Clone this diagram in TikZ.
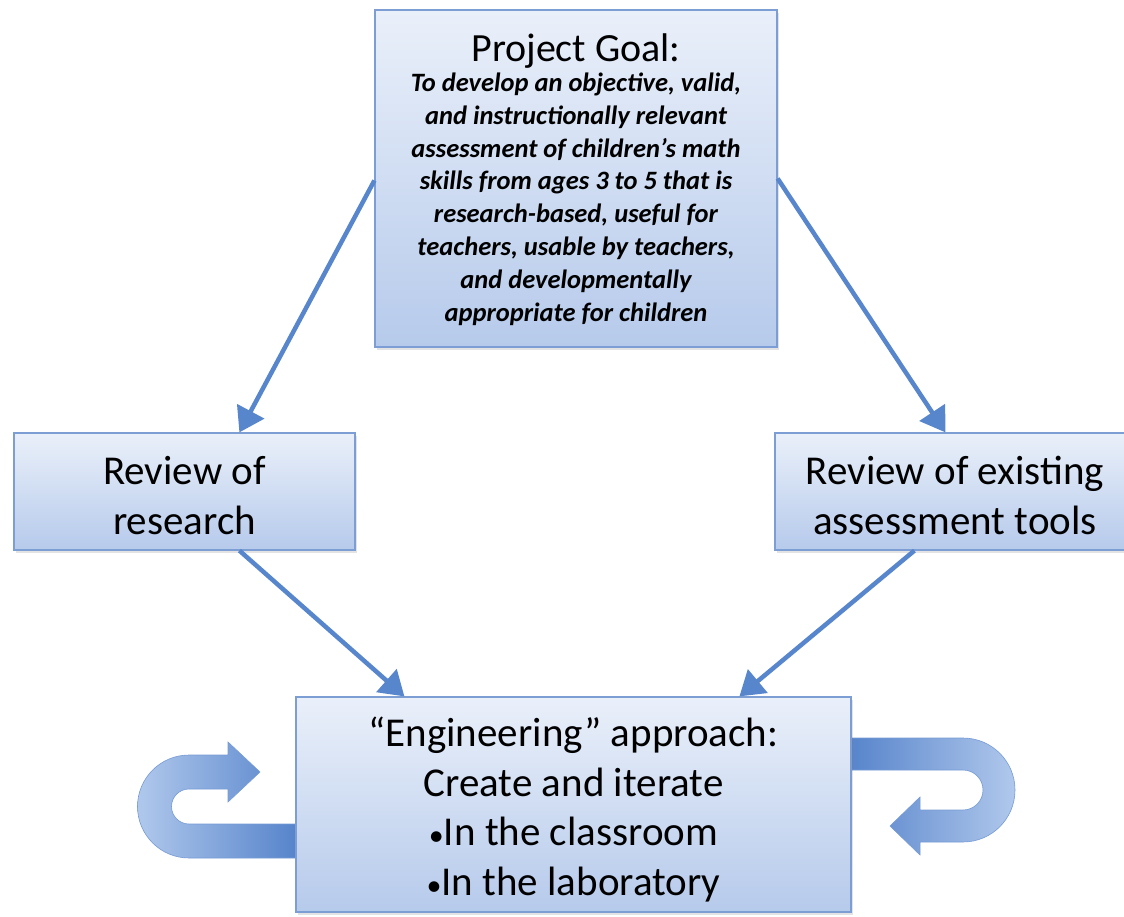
\documentclass[tikz,border=0pt]{standalone}
\usepackage{fontspec}
\setmainfont{Carlito}
\usetikzlibrary{arrows.meta,calc,shadows}

\definecolor{boxtop}{RGB}{234,240,250}
\definecolor{boxbot}{RGB}{182,202,235}
\definecolor{boxline}{RGB}{124,158,212}
\definecolor{flow}{RGB}{88,134,204}
\definecolor{uturnlight}{RGB}{176,200,236}
\definecolor{uturndark}{RGB}{84,130,202}

\newcommand{\smallbullet}{{\fontsize{30}{30}\selectfont•}}

\tikzset{
  stepbox/.style={draw=boxline, line width=1.2pt, top color=boxtop, bottom color=boxbot,
    align=center, inner sep=0pt, font=\fontsize{41}{49.5}\selectfont,
    drop shadow={opacity=0.22, shadow xshift=2pt, shadow yshift=-3pt}},
  goaltext/.style={font=\fontsize{26.5}{32.8}\selectfont\bfseries\itshape},
  flowarrow/.style={draw=flow, line width=4.5pt,
    -{Triangle[length=24pt,width=30pt]}},
  uturn/.style={draw=uturndark!80, line width=0.6pt},
}

\begin{document}
\begin{tikzpicture}[x=1pt,y=-1pt]
  \useasboundingbox (0,0) rectangle (1124,917);
  \clip (0,0) rectangle (1124,917);

  % looping arrows beside the engineering box
  \path[uturn, left color=uturnlight, right color=uturndark]
    (300,858) -- (189,858) arc[start angle=90, end angle=270, radius=51.5]
    -- (228,755) -- (228,742) -- (260,772) -- (228,802) -- (228,789)
    -- (189,789) arc[start angle=270, end angle=90, radius=17.5]
    -- (300,824) -- cycle;
  \path[uturn, left color=uturndark, right color=uturnlight]
    (845,738) -- (963,738) arc[start angle=-90, end angle=90, radius=52]
    -- (920,842) -- (920,855) -- (890,826) -- (920,797) -- (920,810)
    -- (963,810) arc[start angle=90, end angle=-90, radius=20]
    -- (845,770) -- cycle;

  % boxes
  \node[stepbox, goaltext, minimum width=402pt, minimum height=337pt] (goal) at (576,178.5)
    {{\mdseries\upshape\fontsize{40}{40}\selectfont\rule{0pt}{30pt}Project Goal:}\\[-3pt]
     To develop an objective, valid,\\
     and instructionally relevant\\
     assessment of children’s math\\
     skills from ages 3 to 5 that is\\
     research-based, useful for\\
     teachers, usable by teachers,\\
     and developmentally\\
     appropriate for children};
  \node[stepbox, minimum width=341pt, minimum height=117pt] (research) at (184.5,491.5)
    {\rule{0pt}{36pt}Review of\\research};
  \node[stepbox, minimum width=360pt, minimum height=117pt] (tools) at (955,491.5)
    {\rule{0pt}{36pt}Review of existing\\assessment tools};
  \node[stepbox, minimum width=555pt, minimum height=215pt] (engineering) at (573.5,804.5)
    {\rule{0pt}{40pt}“Engineering” approach:\\Create and iterate\\
     \smallbullet In the classroom\\\smallbullet In the laboratory};

  % connectors
  \draw[flowarrow] ($(goal.west)+(0,2)$) -- ($(research.north west)+(226,0)$);
  \draw[flowarrow] (goal.east) -- ($(tools.north west)+(171,0)$);
  \draw[flowarrow] ($(research.south west)+(226,0)$) -- ($(engineering.north west)+(109,0)$);
  \draw[flowarrow] ($(tools.south west)+(140,0)$) -- ($(engineering.north west)+(444,0)$);
\end{tikzpicture}
\end{document}
